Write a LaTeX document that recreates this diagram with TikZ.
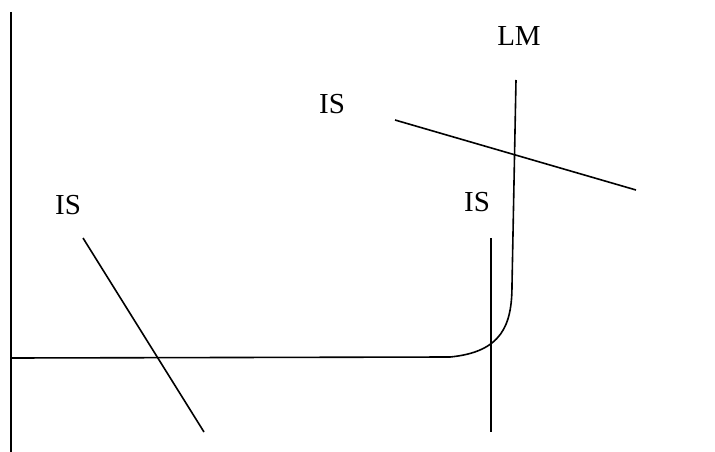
\documentclass[tikz,border=0pt]{standalone}
\usepackage{fontspec}
\setmainfont{Liberation Serif}
\begin{document}
\begin{tikzpicture}[x=1pt,y=-1pt,
  curve/.style={line width=1.6pt, black},
  lbl/.style={font=\fontsize{29}{33}\selectfont, inner sep=0pt}]
\useasboundingbox (0,0) rectangle (715,452);
% axis
\coordinate (atop) at (11,12);
\coordinate (abot) at (11,452);
\draw[curve] (atop) -- (abot);
% LM curve
\coordinate (lm0) at (11,358);
\coordinate (lm1) at (450,357);
\coordinate (lm2) at (512,285);
\coordinate (lm3) at (516,80);
\draw[curve] (lm0) -- (lm1) .. controls (502,352) and (512,325) .. (lm2) -- (lm3);
% IS curves
\coordinate (a1) at (83,238); \coordinate (a2) at (204,432);
\draw[curve] (a1) -- (a2);
\coordinate (b1) at (491,238); \coordinate (b2) at (491,432);
\draw[curve] (b1) -- (b2);
\coordinate (c1) at (395,120); \coordinate (c2) at (636,190);
\draw[curve] (c1) -- (c2);
% labels
\node[lbl] (lmlab) at (519,36) {LM};
\node[lbl] (is1) at (332,104) {IS};
\node[lbl] (is2) at (68,205) {IS};
\node[lbl] (is3) at (477,202) {IS};
\end{tikzpicture}
\end{document}
